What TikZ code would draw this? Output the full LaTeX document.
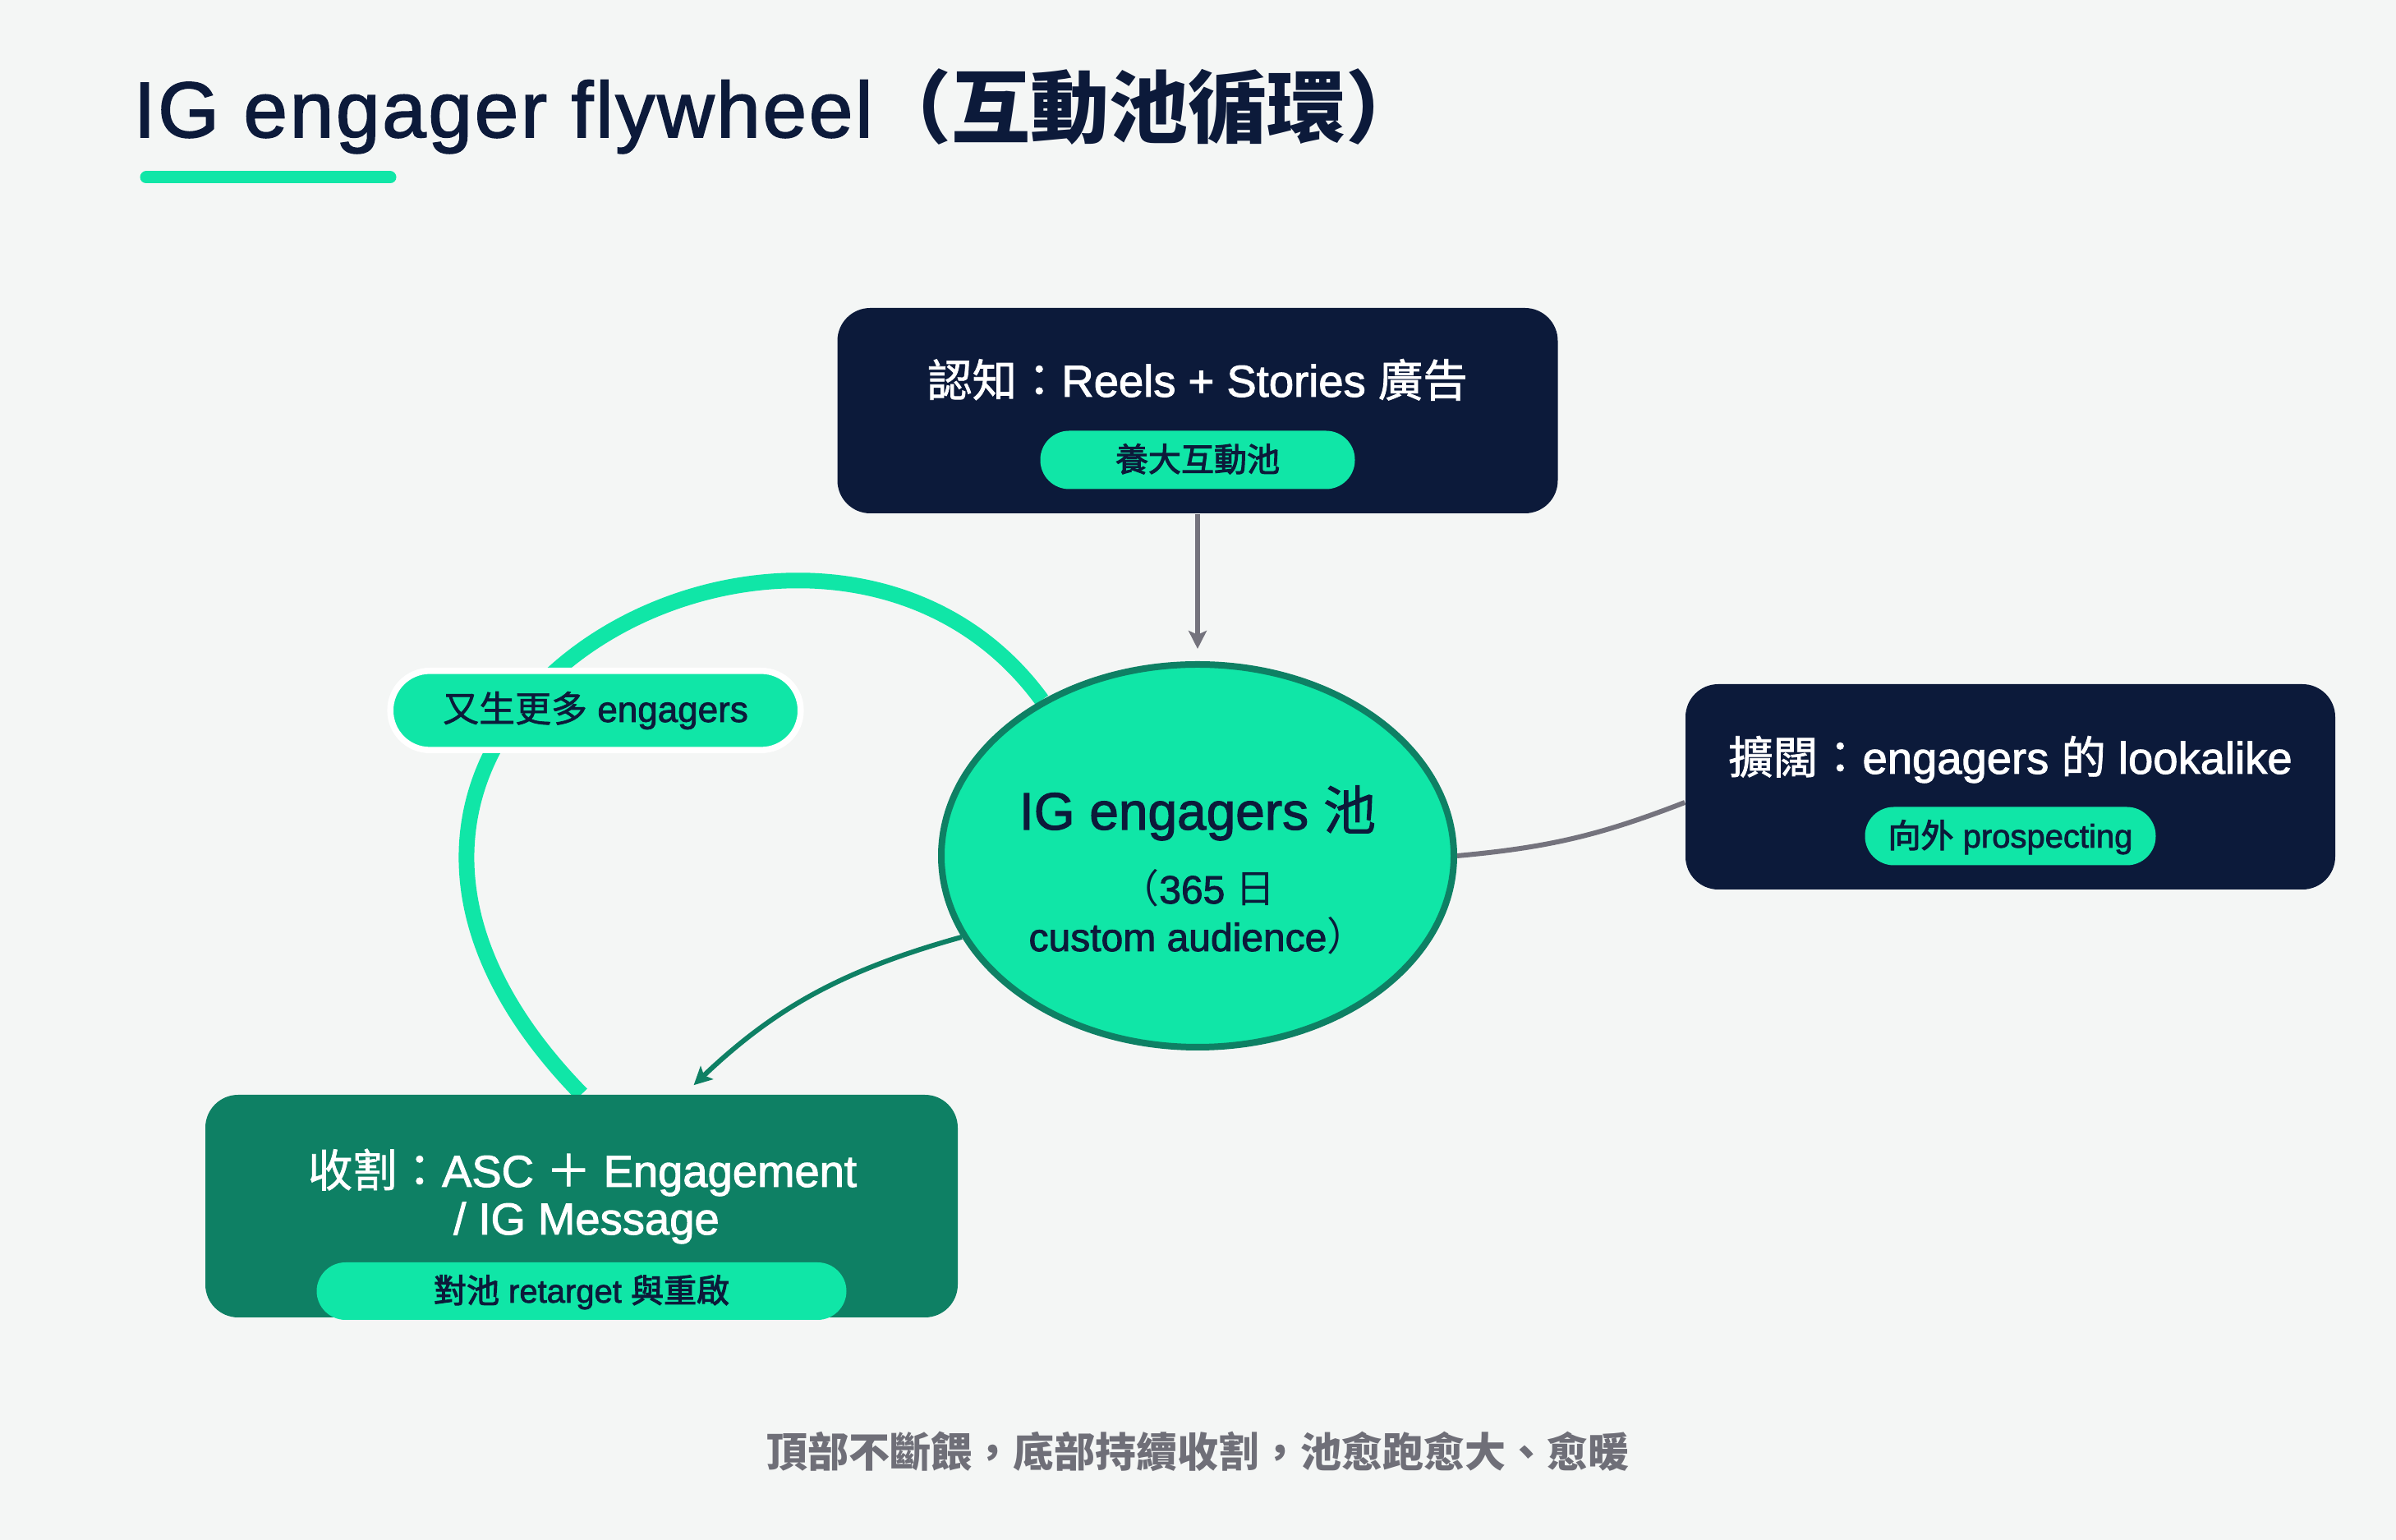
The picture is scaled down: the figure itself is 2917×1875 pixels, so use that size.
\documentclass[tikz,border=0pt]{standalone}
\usepackage{fontspec}
\setmainfont{Liberation Sans}
\newfontfamily\cjk{Noto Sans CJK TC}
\newfontfamily\latmed{Liberation Sans}[FakeBold=1.8]
\newfontfamily\cjkmed{Noto Sans CJK TC}[FakeBold=1.4]
\newfontfamily\cjksemi{Noto Sans CJK TC}[FakeBold=2.6]
\newcommand{\zh}[1]{{\cjk#1}}
\newcommand{\zhm}[1]{{\cjkmed#1}}
\newcommand{\zhs}[1]{{\cjksemi#1}}
\newcommand{\zhb}[1]{{\cjk\bfseries#1}}
\usetikzlibrary{arrows.meta, positioning, shapes.geometric}

\definecolor{bgcol}{HTML}{F4F6F5}
\definecolor{navy}{HTML}{0C1A3A}
\definecolor{mint}{HTML}{10E6A7}
\definecolor{deepgreen}{HTML}{0E8064}
\definecolor{linegrey}{HTML}{74737D}
\definecolor{captiongrey}{HTML}{6F6F78}

\pgfdeclarelayer{bg}
\pgfdeclarelayer{back}
\pgfsetlayers{bg,back,main}

\begin{document}
\begin{tikzpicture}[
    x=0.25pt, y=0.25pt,
    panel/.style={rounded corners=10pt, inner sep=0pt, minimum height=62.5pt},
    heading/.style={text=white, inner sep=0pt, anchor=base, font=\latmed\fontsize{13.6}{16}\selectfont},
    pooltext/.style={text=navy, inner sep=0pt, anchor=base},
    pill/.style={fill=mint, text=navy, inner sep=0pt, minimum height=17.75pt, rounded corners=8.8pt,
        text height=0.85em, text depth=0.15em, font=\latmed\fontsize{10}{12}\selectfont},
    feed/.style={draw=linegrey, line width=1.5pt},
    arr/.style={-{Stealth[length=5.5pt, width=5.5pt, inset=1.2pt]}}
]
\begin{pgfonlayer}{bg}
\fill[bgcol] (0,0) rectangle (2917,1875);
\end{pgfonlayer}
\useasboundingbox (0,0) rectangle (2917,1875);

% title
\node[anchor=base west, inner sep=0pt, text=navy, font=\latmed\addfontfeature{LetterSpace=3}\fontsize{24}{28}\selectfont] (title) at (162,1708) {IG engager flywheel\zhb{（互動池循環）}};
\draw[mint, line width=3.75pt, line cap=round] (178,1659) -- (475,1659);

% awareness
\node[panel, fill=navy, minimum width=219.25pt] (aware) at (1458,1375) {};
\node[heading] (awaretext) at (1458,1392) {\zhm{認知：}Reels + Stories \zhm{廣告}};
\node[pill, minimum width=95.75pt] (awarepill) at (1458,1315) {\zhs{養大互動池}};

% pool
\node[ellipse, fill=mint, draw=deepgreen, line width=2pt, minimum width=156pt, minimum height=116.5pt] (pool) at (1458,833) {};
\node[pooltext, font=\latmed\fontsize{16}{19}\selectfont] (poolname) at (1458,865) {IG engagers \zhm{池}};
\node[pooltext, font=\latmed\fontsize{12}{14}\selectfont] (pooldays) at (1458,775) {\zh{（}365 \zh{日}};
\node[pooltext, font=\latmed\fontsize{12}{14}\selectfont] (poolaud) at (1458,717) {custom audience\zh{）}};

% expansion
\node[panel, fill=navy, minimum width=197.75pt] (expand) at (2447.5,917) {};
\node[heading] (expandtext) at (2447.5,933) {\zhm{擴闊：}engagers \zhm{的} lookalike};
\node[pill, minimum width=88.5pt] (expandpill) at (2447.5,857) {\zhs{向外} prospecting};

% harvest
\node[panel, fill=deepgreen, minimum width=229pt, minimum height=67.75pt] (harvest) at (708,406.5) {};
\node[heading] (harvesttext) at (709,430) {\zhm{收割：}ASC \zhm{＋} Engagement};
\node[heading] (harvestsub) at (714,372) {/ IG Message};
\node[pill, minimum width=161.25pt, minimum height=17.5pt] (harvestpill) at (708,303) {\zhs{對池} retarget \zhs{與重啟}};

% loop label
\node[pill, draw=white, line width=1.9pt, minimum width=124.9pt, minimum height=24.1pt, rounded corners=12pt,
    font=\latmed\fontsize{11}{13}\selectfont] (more) at (725,1010) {\zhm{又生更多} engagers};

% caption
\node[anchor=base, inner sep=0pt, text=captiongrey, font=\cjk\bfseries\fontsize{12.5}{15}\selectfont] (caption) at (1458,88) {頂部不斷餵，底部持續收割，池愈跑愈大、愈暖};

% connectors
\draw[feed, arr, shorten >=3.75pt] (aware) -- (pool);
\draw[feed] (pool.east) to[bend right=8] ([yshift=-4.75pt]expand.west);
\draw[draw=deepgreen, line width=1.5pt, arr, shorten >=4pt] (pool.199) to[bend right=14] ([xshift=31.25pt]harvest.north);
\begin{pgfonlayer}{back}
\draw[mint, line width=4.75pt] (harvest.north) .. controls (262,1000) and (1000,1390) .. (pool.135);
\end{pgfonlayer}
\end{tikzpicture}
\end{document}
